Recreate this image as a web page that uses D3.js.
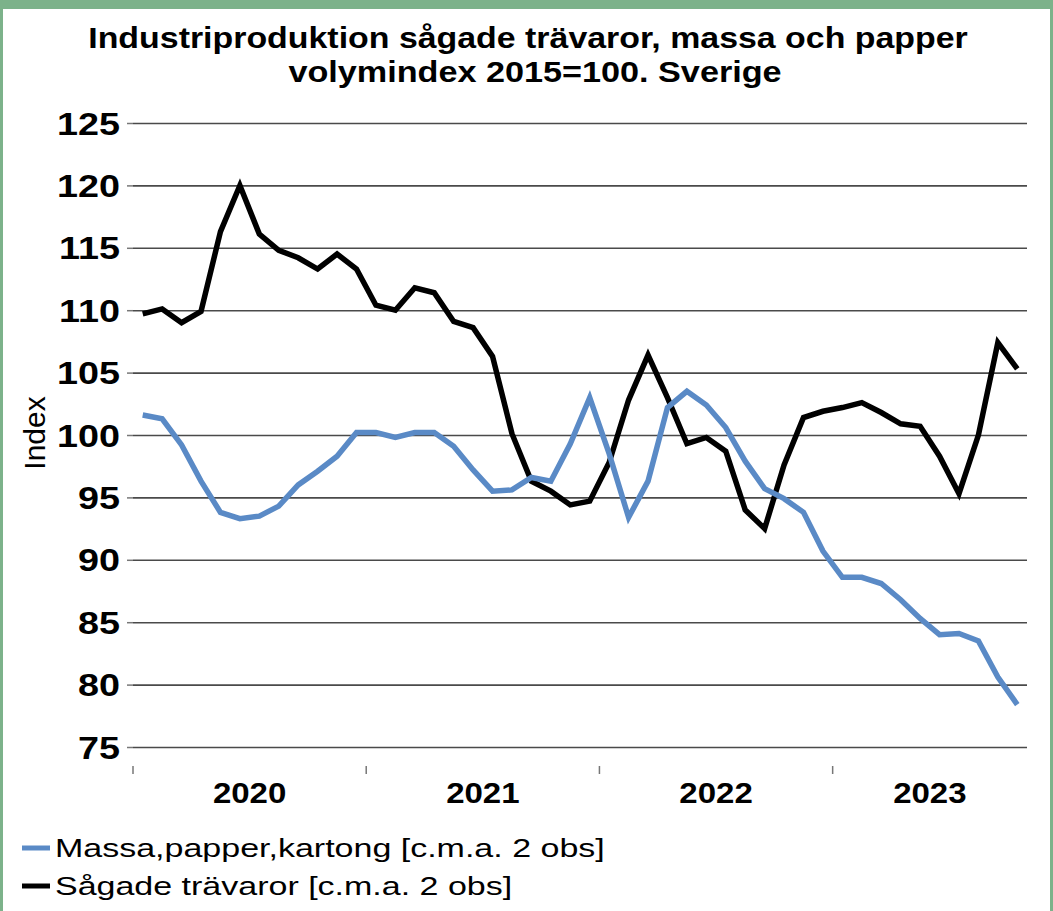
<!DOCTYPE html>
<html>
<head>
<meta charset="utf-8">
<script src="https://cdn.jsdelivr.net/npm/d3@7"></script>
<style>
  body { margin: 0; background: #fff; }
  svg { display: block; font-family: "Liberation Sans", Arial, sans-serif; }
</style>
</head>
<body>
<svg id="chart" width="1053" height="911"></svg>
<script>
// ---- data ----
var years = ["2020", "2021", "2022", "2023"];
var monthsPerYear = [12, 12, 12, 10];

var massa = [101.6, 101.3, 99.2, 96.3, 93.8, 93.3, 93.5, 94.3, 96.0, 97.1, 98.3, 100.2,
             100.2, 99.8, 100.2, 100.2, 99.1, 97.2, 95.5, 95.6, 96.6, 96.3, 99.3, 103.0,
             98.5, 93.4, 96.3, 102.2, 103.5, 102.4, 100.6, 97.9, 95.7, 94.9, 93.8, 90.7,
             88.6, 88.6, 88.1, 86.8, 85.3, 84.0, 84.1, 83.5, 80.6, 78.4];
var sagade = [109.7, 110.1, 109.0, 109.9, 116.3, 120.0, 116.1, 114.8, 114.2, 113.3, 114.5, 113.3,
              110.4, 110.0, 111.8, 111.4, 109.1, 108.6, 106.3, 100.1, 96.3, 95.5, 94.4, 94.7,
              97.8, 102.8, 106.4, 103.0, 99.3, 99.8, 98.7, 94.0, 92.5, 97.6, 101.4, 101.9,
              102.2, 102.6, 101.8, 100.9, 100.7, 98.3, 95.3, 100.0, 107.4, 105.3];
var yTicks = [75, 80, 85, 90, 95, 100, 105, 110, 115, 120, 125];
var seriesNames = ["Massa,papper,kartong [c.m.a. 2 obs]", "Sågade trävaror [c.m.a. 2 obs]"];
var seriesColors = ["#5a8ac6", "#000000"];

// month categories built from the year list
var months = [];
years.forEach(function(yr, k) {
  for (var m = 1; m <= monthsPerYear[k]; m++) months.push(yr + "-" + (m < 10 ? "0" + m : m));
});

var svg = d3.select("#chart");
var W = 1053, H = 911;
var margin = { top: 123, right: 26, bottom: 164, left: 133 };

// green frame
svg.append("rect").attr("width", W).attr("height", H).attr("fill", "#7cb28a");
svg.append("rect").attr("x", 3).attr("y", 9).attr("width", W - 6).attr("height", H - 9).attr("fill", "#fff");

var x = d3.scaleBand()
    .domain(months)
    .range([margin.left, W - margin.right]);

var y = d3.scaleLinear()
    .domain([75, 125])
    .range([H - margin.bottom, margin.top]);

// text stretched horizontally like the original
function stext(parent, tx, ty, sx, str) {
  return parent.append("text")
    .attr("transform", "translate(" + tx + "," + ty + ") scale(" + sx + ",1)")
    .text(str);
}

// y axis + gridlines
var gY = svg.append("g")
    .attr("transform", "translate(" + margin.left + ",0)")
    .call(d3.axisLeft(y).tickValues(yTicks).tickSize(6).tickFormat(""));
gY.select(".domain").remove();
gY.selectAll(".tick line").attr("stroke", "#777").attr("stroke-width", 1.5);
gY.selectAll(".tick").append("line")
    .attr("x1", 0).attr("x2", W - margin.right - margin.left)
    .attr("stroke", "#4a4a4a").attr("stroke-width", 1.6);

yTicks.forEach(function(t) {
  stext(svg, 120, y(t) + 11.5, 1.18, t)
    .attr("text-anchor", "end")
    .style("font-size", "32px").style("font-weight", "bold").attr("fill", "#000");
});

// year separators and labels
var start = 0;
years.forEach(function(yr, k) {
  var x0 = x(months[start]);
  var x1 = x(months[start + monthsPerYear[k] - 1]) + x.bandwidth();
  svg.append("line")
    .attr("x1", x0).attr("x2", x0).attr("y1", 766).attr("y2", 774)
    .attr("stroke", "#777").attr("stroke-width", 1.5);
  stext(svg, (x0 + x1) / 2, 803, 1.1, yr)
    .attr("text-anchor", "middle")
    .style("font-size", "30px").style("font-weight", "bold");
  start += monthsPerYear[k];
});

// y axis title
svg.append("text")
    .attr("transform", "translate(45,433) rotate(-90)")
    .attr("text-anchor", "middle")
    .style("font-size", "30px")
    .text("Index");

// lines
var line = d3.line()
    .x(function(d, i) { return x(months[i]) + x.bandwidth() / 2; })
    .y(function(d) { return y(d); });

[sagade, massa].forEach(function(s, k) {
  svg.append("path")
    .datum(s)
    .attr("fill", "none")
    .attr("stroke", k === 0 ? seriesColors[1] : seriesColors[0])
    .attr("stroke-width", 5.5)
    .attr("stroke-linejoin", "miter")
    .attr("d", line);
});

// title
stext(svg, 528, 48, 1.13, "Industriproduktion sågade trävaror, massa och papper")
    .attr("text-anchor", "middle").style("font-size", "30px").style("font-weight", "bold");
stext(svg, 535, 82, 1.14, "volymindex 2015=100. Sverige")
    .attr("text-anchor", "middle").style("font-size", "30px").style("font-weight", "bold");

// legend
seriesNames.forEach(function(n, i) {
  var ly = 848 + i * 38;
  svg.append("line")
    .attr("x1", 22).attr("x2", 50).attr("y1", ly).attr("y2", ly)
    .attr("stroke", seriesColors[i]).attr("stroke-width", 5);
  stext(svg, 55, ly + 9, 1.36, n).style("font-size", "25px");
});
</script>
</body>
</html>
